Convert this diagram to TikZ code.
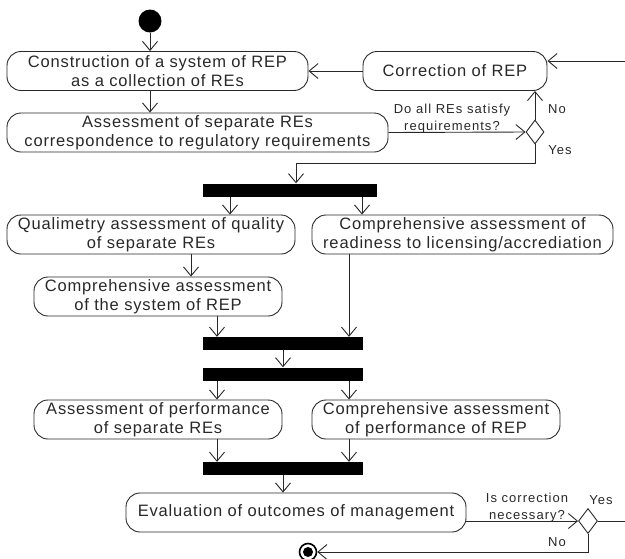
\documentclass[tikz,border=0pt]{standalone}
\usepackage{fontspec}
\setmainfont{Liberation Sans}[LetterSpace=5]
\newfontfamily\lblfont{Liberation Sans}[LetterSpace=8]
\usetikzlibrary{arrows.meta,shapes.geometric}
\definecolor{ln}{RGB}{40,40,40}
\begin{document}
\begin{tikzpicture}[x=1pt,y=-1pt,
  act/.style={draw=ln,line width=0.9pt,rounded corners=14pt,inner sep=0pt,align=center,
    font=\fontsize{16.5}{19}\selectfont,text=ln,minimum height=39pt},
  bar/.style={fill=black,draw=none,inner sep=0pt,minimum height=13pt},
  dec/.style={diamond,draw=ln,line width=0.9pt,inner sep=0pt,shape aspect=0.75},
  arr/.style={draw=ln,line width=0.9pt,-{Straight Barb[length=9pt,width=15pt,line width=0.9pt]}},
  cn/.style={draw=ln,line width=0.9pt},
  lbl/.style={font=\lblfont\fontsize{13}{17}\selectfont,text=ln,align=center,inner sep=0pt}
]
\useasboundingbox (0,0) rectangle (625,558);

% nodes
\node[circle,fill=black,minimum size=23pt,inner sep=0pt] (start) at (150,21) {};
\node[act,minimum width=301pt] (b1) at (157.5,71) {Construction of a system of REP\\as a collection of REs};
\node[act,minimum width=184pt] (corr) at (455,71) {Correction of REP};
\node[act,minimum width=381pt] (b2) at (197.5,132.5) {Assessment of separate REs\\correspondence to regulatory requirements};
\node[dec,minimum width=18pt,minimum height=24pt] (d1) at (535,132) {};
\node[bar,minimum width=174pt] (bar1) at (290,190) {};
\node[act,minimum width=288pt] (b3) at (151,234.5) {Qualimetry assessment of quality\\of separate REs};
\node[act,minimum width=301pt] (b4) at (462.5,234.5) {Comprehensive assessment of\\readiness to licensing/accrediation};
\node[act,minimum width=248pt] (b5) at (158,296.5) {Comprehensive assessment\\of the system of REP};
\node[bar,minimum width=160pt] (bar2) at (283,343.5) {};
\node[bar,minimum width=160pt] (bar3) at (283,374) {};
\node[act,minimum width=248pt] (b6) at (158,419.5) {Assessment of performance\\of separate REs};
\node[act,minimum width=248pt] (b7) at (436,419.5) {Comprehensive assessment\\of performance of REP};
\node[bar,minimum width=160pt] (bar4) at (283,468.5) {};
\node[act,minimum width=340pt] (b8) at (296,512.5) {Evaluation of outcomes of management};
\node[dec,minimum width=19pt,minimum height=25pt] (d2) at (588,521) {};
\node[circle,draw=black,line width=1.6pt,minimum size=17pt,inner sep=0pt] (end) at (308,552) {};
\fill[black] (end.center) circle (5pt);

% labels
\node[lbl] at (452,118.5) {Do all REs satisfy\\requirements?};
\node[lbl] at (557,109) {No};
\node[lbl] at (560,150) {Yes};
\node[lbl] at (527,508) {Is correction\\necessary?};
\node[lbl] at (601,500) {Yes};
\node[lbl] at (557,542) {No};

% column coordinates
\coordinate (inR) at (625,61);
\coordinate (outR) at (625,521);
\coordinate (j1) at (296,163);
\coordinate (cA) at (230,0);
\coordinate (cB) at (362,0);
\coordinate (cC) at (191,0);
\coordinate (cD) at (217,0);
\coordinate (cE) at (349,0);

% connectors
\draw[arr] (start.south) -- (start.south |- b1.north);
\draw[arr] (inR) -- (inR -| corr.east);
\draw[arr] (corr.west) -- (b1.east);
\draw[arr] (b1.south -| start) -- (b2.north -| start);
\draw[arr] (b2.east) -- (d1.west);
\draw[arr] (d1.north) -- (d1.north |- corr.south);
\draw[cn] (d1.south) |- (j1);
\draw[arr] (j1) -- (j1 |- bar1.north);
\draw[arr] (bar1.south -| cA) -- (b3.north -| cA);
\draw[arr] (bar1.south -| cB) -- (b4.north -| cB);
\draw[arr] (b3.south -| cC) -- (b5.north -| cC);
\draw[arr] (b5.south -| cD) -- (bar2.north -| cD);
\draw[arr] (b4.south -| cE) -- (bar2.north -| cE);
\draw[arr] (bar2.south) -- (bar3.north);
\draw[arr] (bar3.south -| cD) -- (b6.north -| cD);
\draw[arr] (bar3.south -| cE) -- (b7.north -| cE);
\draw[arr] (b6.south -| cD) -- (bar4.north -| cD);
\draw[arr] (b7.south -| cE) -- (bar4.north -| cE);
\draw[arr] (bar4.south) -- (bar4.south |- b8.north);
\draw[arr] (b8.east |- d2) -- (d2.west);
\draw[cn] (d2.east) -- (outR);
\draw[arr] (d2.south) |- (end.east);
\end{tikzpicture}
\end{document}
